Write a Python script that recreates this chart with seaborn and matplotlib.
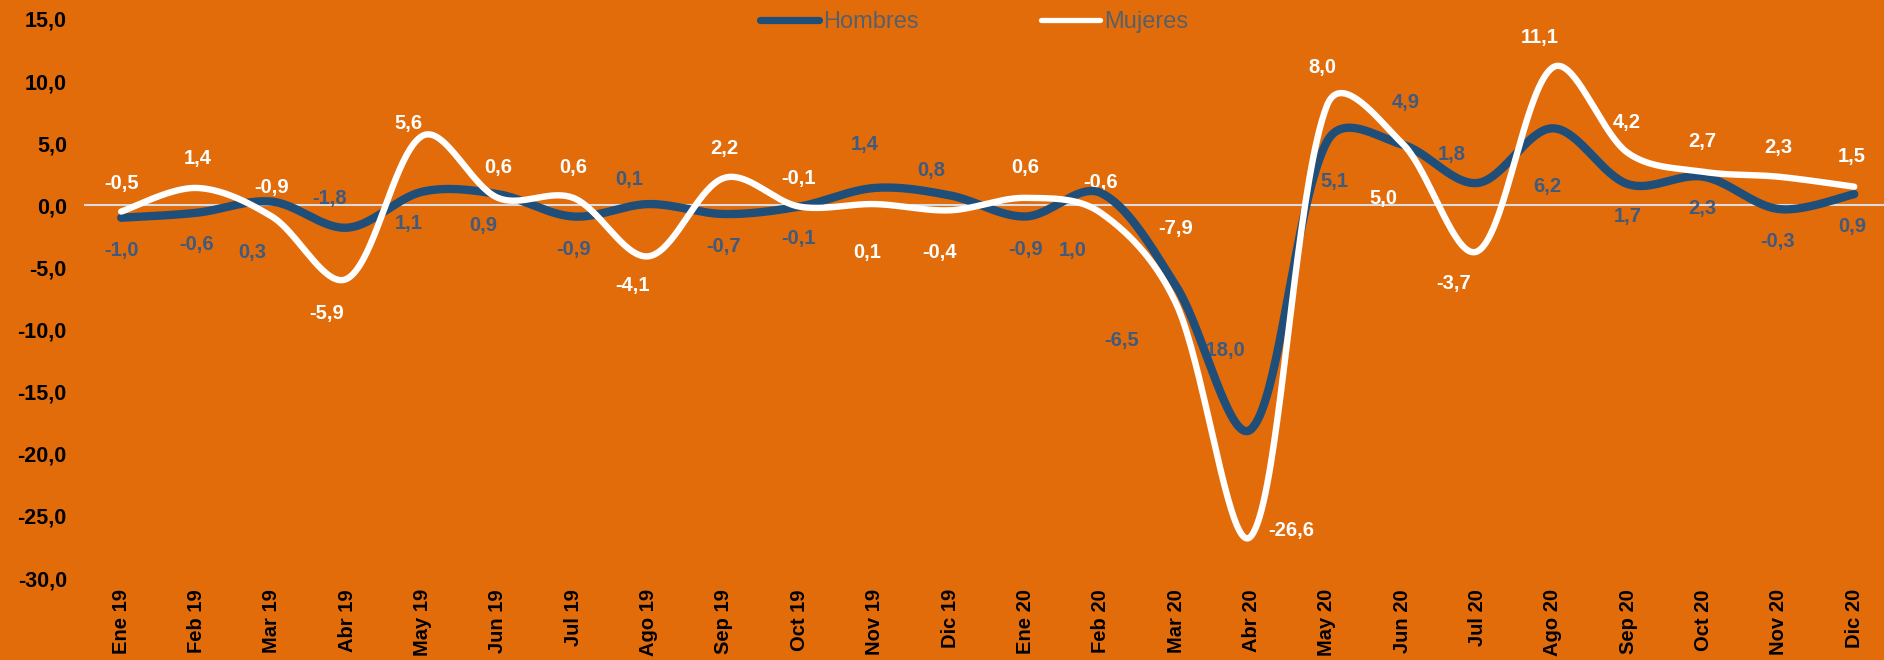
import numpy as np
import pandas as pd
import matplotlib
matplotlib.use('Agg')
import matplotlib.pyplot as plt
from matplotlib.lines import Line2D
from matplotlib.ticker import FuncFormatter
import seaborn as sns

months = ['Ene 19', 'Feb 19', 'Mar 19', 'Abr 19', 'May 19', 'Jun 19',
          'Jul 19', 'Ago 19', 'Sep 19', 'Oct 19', 'Nov 19', 'Dic 19',
          'Ene 20', 'Feb 20', 'Mar 20', 'Abr 20', 'May 20', 'Jun 20',
          'Jul 20', 'Ago 20', 'Sep 20', 'Oct 20', 'Nov 20', 'Dic 20']
hombres = [-1.0, -0.6, 0.3, -1.8, 1.1, 0.9, -0.9, 0.1, -0.7, -0.1, 1.4, 0.8,
           -0.9, 1.0, -6.5, -18.0, 5.1, 4.9, 1.8, 6.2, 1.7, 2.3, -0.3, 0.9]
mujeres = [-0.5, 1.4, -0.9, -5.9, 5.6, 0.6, 0.6, -4.1, 2.2, -0.1, 0.1, -0.4,
           0.6, -0.6, -7.9, -26.6, 8.0, 5.0, -3.7, 11.1, 4.2, 2.7, 2.3, 1.5]

# where the data labels sit, pixels from their point (dx, dy up)
off_h = [(0, -33), (0, -32), (-20, -51), (-18, 29), (-14, -32), (-15, -31),
         (0, -33), (-19, 25), (0, -32), (-1, -32), (-10, 43), (-19, 25),
         (0, -33), (-28, -58), (-54, -54), (-29, 78), (8, -40), (4, 42),
         (-26, 28), (-6, -58), (0, -32), (-1, -32), (-1, -32), (-2, -32)]
off_m = [(0, 28), (1, 29), (0, 29), (-21, -35), (-14, 12), (0, 30),
         (0, 30), (-16, -29), (0,30), (-1, 28), (-7, -48), (-11, -42),
         (0, 30), (0, 30), (0, 75), (40, 5), (-4, 38), (-19, -55),
         (-24, -32), (-13, 30), (-1, 31), (-1, 30), (-1, 29), (-2, 30)]

ORANGE = '#E36C0A'
BLUE = '#1F4E79'
BLUE_TXT = '#3E5A7E'


def smooth(vals, n=40, sx=75.35, sy=12.42):
  # excel-like smoothed line: bezier through the points, worked out in
  # screen pixels so the steep segments don't overshoot too much
  P = np.column_stack([np.arange(len(vals)) * sx, np.asarray(vals, float) * sy])
  last = len(P) - 1
  t = np.linspace(0, 1, n, endpoint=False)[:, None]
  pts = []
  for i in range(last):
    p0, p1, p2, p3 = P[max(i-1, 0)], P[i], P[i+1], P[min(i+2, last)]
    d01 = np.hypot(*(p1 - p0))
    d12 = np.hypot(*(p2 - p1))
    d23 = np.hypot(*(p3 - p2))
    w1 = np.sqrt(2*d12/(d01 + d12)) if d01 > 0 else 1.0
    w2 = np.sqrt(2*d12/(d12 + d23)) if d23 > 0 else 1.0
    c1 = p1 + (p2 - p0) / 6 * w1
    c2 = p2 - (p3 - p1) / 6 * w2
    pts.append((1-t)**3*p1 + 3*(1-t)**2*t*c1 + 3*(1-t)*t**2*c2 + t**3*p2)
  pts.append(P[-1:])
  pts = np.vstack(pts)
  return pts[:, 0] / sx, pts[:, 1] / sy


def fmt(v):
  return f'{v:.1f}'.replace('.', ',')


sns.set_style('white', {'axes.facecolor': ORANGE, 'figure.facecolor': ORANGE})
plt.rcParams['font.family'] = ['Liberation Sans', 'DejaVu Sans']

fig = plt.figure(figsize=(18.84, 6.6), dpi=100)
ax = fig.add_axes([83.5/1884, 1-578/660, 1808.4/1884, 559/660])
ax.set_facecolor(ORANGE)

ax.axhline(0, color='#DCDCDC', lw=1.5, zorder=1)

xh, yh = smooth(hombres)
xm, ym = smooth(mujeres)
dfh = pd.DataFrame({'x': xh, 'y': yh})
dfm = pd.DataFrame({'x': xm, 'y': ym})
sns.lineplot(data=dfh, x='x', y='y', ax=ax, color=BLUE, lw=6, sort=False,
             estimator=None, zorder=3, solid_capstyle='round')
sns.lineplot(data=dfm, x='x', y='y', ax=ax, color='white', lw=4.6, sort=False,
             estimator=None, zorder=4, solid_capstyle='round')

for i in range(len(months)):
  ax.annotate(fmt(hombres[i]), (i, hombres[i]), xytext=off_h[i],
              textcoords='offset pixels', ha='center', va='center',
              fontsize=14.5, fontweight='bold', color=BLUE_TXT, zorder=2)
  ax.annotate(fmt(mujeres[i]), (i, mujeres[i]), xytext=off_m[i],
              textcoords='offset pixels', ha='center', va='center',
              fontsize=14.5, fontweight='bold', color='white', zorder=2)

ax.set_xlim(-0.5, 23.5)
ax.set_ylim(-30, 15)
ax.set_xticks(range(len(months)))
ax.set_xticklabels(months, rotation=90, fontweight='bold', fontsize=14.5, color='black')
ax.set_yticks(range(-30, 16, 5))
ax.yaxis.set_major_formatter(FuncFormatter(lambda v, p: fmt(v)))
for lab in ax.get_yticklabels():
  lab.set_fontweight('bold')
ax.tick_params(axis='x', length=0, pad=8)
ax.tick_params(axis='y', length=0, pad=12, labelsize=15.5, labelcolor='black')
ax.set_xlabel('')
ax.set_ylabel('')
for s in ax.spines.values():
  s.set_visible(False)

handles = [Line2D([], [], color=BLUE, lw=5.2, solid_capstyle='round'),
           Line2D([], [], color='white', lw=3.8, solid_capstyle='round')]
fig.legend(handles, ['Hombres', 'Mujeres'], loc='center',
           bbox_to_anchor=(974/1884, 1-22/660), ncol=2, frameon=False,
           fontsize=17, handlelength=2.5, handletextpad=0.15,
           columnspacing=5.2, labelcolor='#56606B')

fig.savefig('out.png', dpi=100, facecolor=ORANGE)
